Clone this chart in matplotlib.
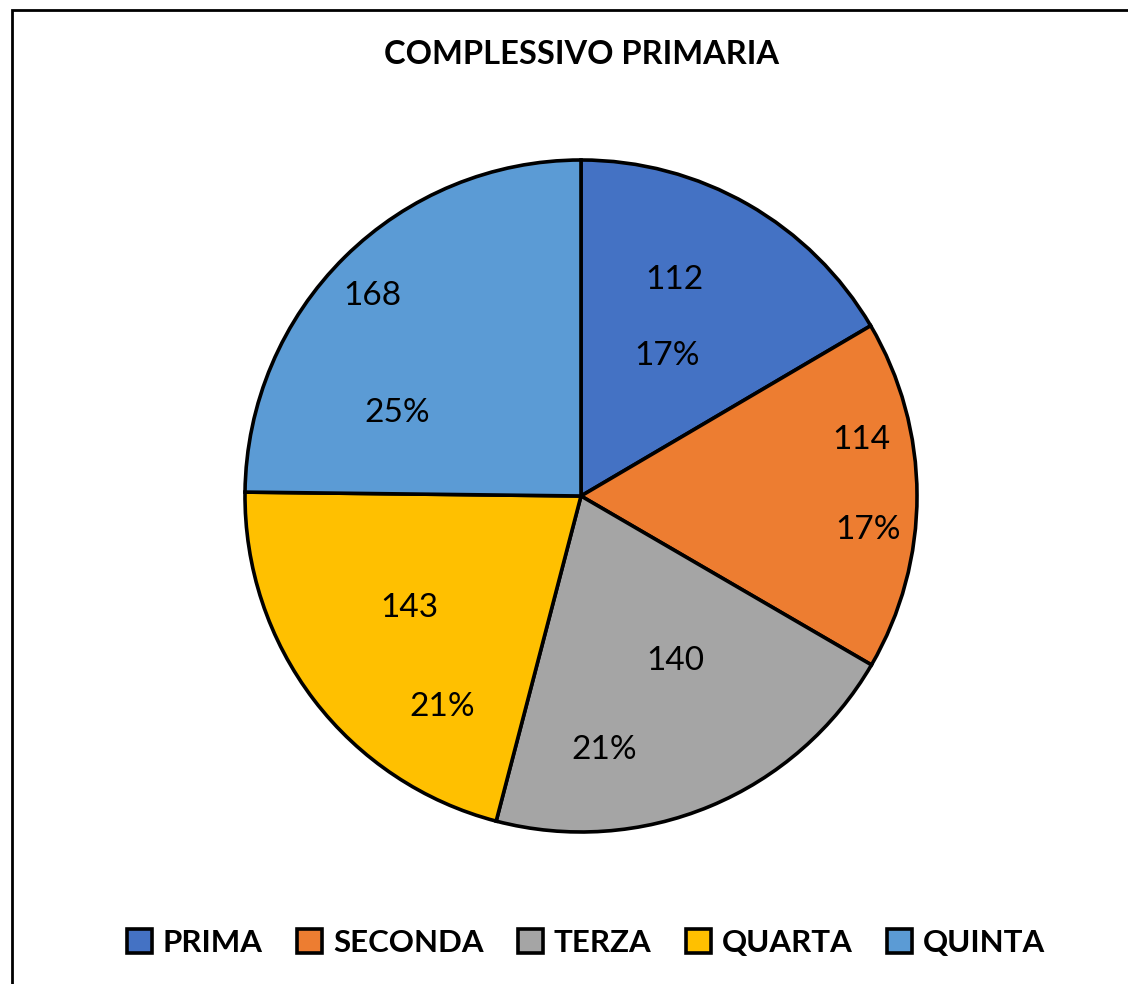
import numpy as np
import matplotlib
matplotlib.use("Agg")
import matplotlib.pyplot as plt
from matplotlib.patches import Patch, Rectangle

plt.rcParams['font.family'] = ['Lato', 'DejaVu Sans']

classi = ['PRIMA', 'SECONDA', 'TERZA', 'QUARTA', 'QUINTA']
alunni = [112, 114, 140, 143, 168]
colori = ['#4472C4', '#ED7D31', '#A5A5A5', '#FFC000', '#5B9BD5']

# label placement per slice: (radius, angle shift from slice middle in degrees)
pos_valore = [(0.70, 6.5), (0.85, 11.1), (0.565, 7.3), (0.61, -4.2), (0.86, 1.6)]
pos_perc = [(0.49, -1.9), (0.86, -6.8), (0.76, -17.5), (0.75, 19.3), (0.60, 21.0)]

W, H = 1128, 984
fig = plt.figure(figsize=(W / 100, H / 100), dpi=100)

# chart border, running off the right and bottom edges
fig.patches.append(Rectangle((12 / W, -0.1), 1.2, 1 - 10 / H + 0.1,
                             transform=fig.transFigure, fill=False,
                             edgecolor='black', linewidth=2, zorder=0))

R = 337
cx, cy = 581, H - 496
half = 420
ax = fig.add_axes([(cx - half) / W, (cy - half) / H, 2 * half / W, 2 * half / H])
ax.set_xlim(-half / R, half / R)
ax.set_ylim(-half / R, half / R)
ax.set_aspect('equal')
ax.axis('off')

wedges, _ = ax.pie(alunni, colors=colori, startangle=90, counterclock=False,
                   radius=1.0, wedgeprops=dict(edgecolor='black', linewidth=2.6))

totale = sum(alunni)
for w, v, pv, pp in zip(wedges, alunni, pos_valore, pos_perc):
    mid = (w.theta1 + w.theta2) / 2
    perc = f"{round(100 * v / totale)}%"
    for testo, (r, da) in ((str(v), pv), (perc, pp)):
        a = np.deg2rad(mid + da)
        ax.text(r * np.cos(a), r * np.sin(a), testo, ha='center', va='center',
                fontsize=24, color='black')

fig.text(581 / W, 1 - 55 / H, 'COMPLESSIVO PRIMARIA', ha='center', va='center',
         fontsize=23.5, fontweight='bold')

handles = [Patch(facecolor=c, edgecolor='black', linewidth=2.6, label=l)
           for c, l in zip(colori, classi)]
fig.legend(handles=handles, loc='center', bbox_to_anchor=(586 / W, 1 - 943 / H),
           ncol=5, frameon=False, prop=dict(weight='bold', size=22.5),
           handlelength=0.8, handleheight=0.8, handletextpad=0.35,
           columnspacing=1.1)

fig.savefig('out.png', dpi=100)
